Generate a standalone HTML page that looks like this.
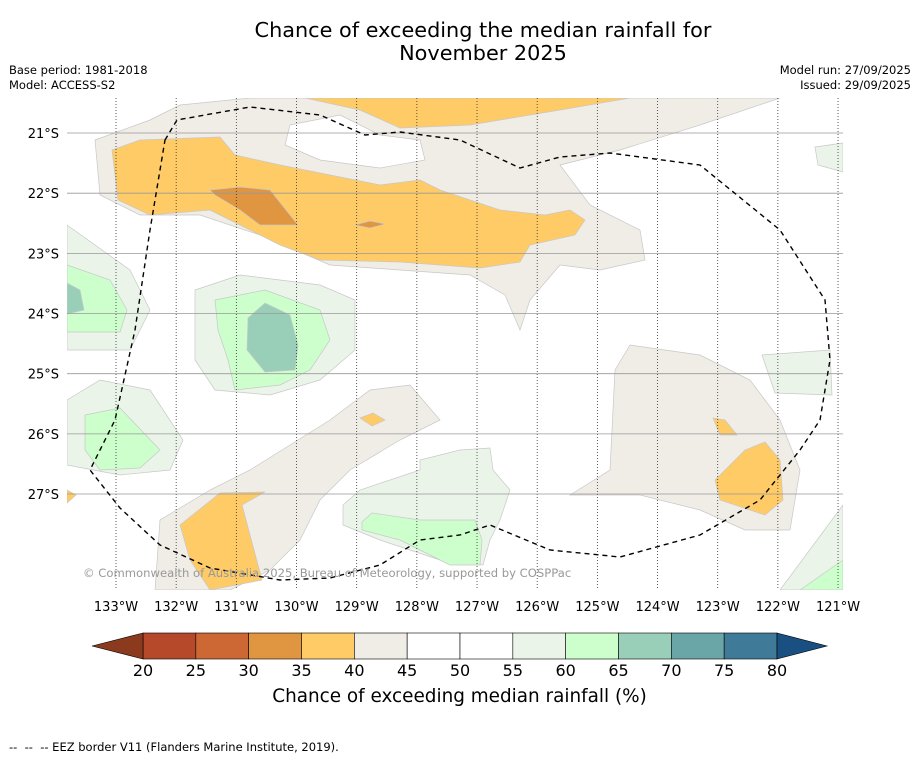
<!DOCTYPE html>
<html><head><meta charset="utf-8"><style>
body{margin:0;background:#fff;font-family:"DejaVu Sans","Liberation Sans",sans-serif;}
#wrap{position:relative;width:919px;height:758px;overflow:hidden;background:#fff}
.t{position:absolute;white-space:nowrap}
svg text{font-family:"DejaVu Sans","Liberation Sans",sans-serif;}
</style></head><body>
<div id="wrap">
<div class="t" style="left:0;width:966px;top:19px;text-align:center;font-size:20.8px;line-height:23px;color:#000">Chance of exceeding the median rainfall for<br>November 2025</div>
<div class="t" style="left:9px;top:63px;font-size:11.5px;line-height:15px">Base period: 1981-2018<br>Model: ACCESS-S2</div>
<div class="t" style="right:8px;top:63px;font-size:11.5px;line-height:15px;text-align:right">Model run: 27/09/2025<br>Issued: 29/09/2025</div>
<svg id="svg" width="919" height="758" style="position:absolute;left:0;top:0">
<defs><clipPath id="mc"><rect x="67" y="98" width="776" height="492"/></clipPath></defs>
<g clip-path="url(#mc)">
<rect x="67" y="98" width="776" height="492" fill="#fff"/>
<g stroke="#c8c8c8" stroke-width="0.7">
<path fill="#f0ece6" d="M95,140 L150,120 L180,105 L250,98 L780,98 L700,125 L620,150 L560,165 L590,205 L640,230 L645,260 L600,270 L560,265 L530,300 L520,330 L505,295 L470,275 L400,270 L330,265 L260,235 L200,215 L140,215 L100,195 Z"/>
<path fill="#fff" d="M290,125 L340,115 L380,135 L420,140 L425,160 L380,168 L320,160 L285,145 Z"/>
<path fill="#fecb66" d="M112,150 L140,140 L220,137 L235,155 L280,165 L330,175 L380,185 L420,180 L440,190 L500,210 L545,215 L570,210 L585,220 L575,235 L530,245 L520,262 L480,268 L400,262 L320,260 L280,245 L240,225 L210,210 L150,215 L118,200 Z"/>
<path fill="#fecb66" d="M305,98 L630,98 L560,110 L470,125 L400,128 L360,110 Z"/>
<path fill="#e09540" d="M210,190 L240,187 L270,190 L298,225 L260,225 L240,210 L215,195 Z M355,225 L370,221 L385,224 L370,228 Z"/>
<path fill="#eaf4e9" d="M195,290 L240,275 L320,285 L355,300 L355,350 L320,380 L270,395 L215,390 L195,360 Z"/>
<path fill="#ccffcc" d="M215,300 L265,290 L320,310 L330,340 L310,370 L280,385 L235,390 L228,360 L218,330 Z"/>
<path fill="#99cfb8" d="M248,318 L265,303 L290,315 L298,345 L295,370 L265,372 L247,350 Z"/>
<path fill="#eaf4e9" d="M67,225 L130,270 L150,310 L130,350 L67,350 Z"/>
<path fill="#ccffcc" d="M67,265 L110,280 L127,310 L120,332 L67,332 Z"/>
<path fill="#99cfb8" d="M67,283 L80,290 L84,310 L67,314 Z"/>
<path fill="#eaf4e9" d="M67,400 L100,380 L150,390 L183,440 L170,470 L120,475 L67,465 Z"/>
<path fill="#ccffcc" d="M85,415 L120,408 L160,450 L140,468 L100,470 L85,450 Z"/>
<path fill="#f0ece6" d="M155,590 L160,520 L210,490 L250,470 L330,420 L370,390 L410,385 L440,420 L400,440 L350,470 L320,500 L300,540 L270,570 L230,590 Z"/>
<path fill="#fecb66" d="M180,525 L220,493 L265,492 L242,505 L262,580 L210,590 L190,560 Z M360,418 L373,413 L385,420 L372,426 Z"/>
<path fill="#eaf4e9" d="M343,505 L360,490 L420,470 L420,460 L460,450 L490,448 L493,470 L510,490 L500,520 L490,540 L483,565 L440,560 L380,540 L343,525 Z"/>
<path fill="#ccffcc" d="M362,522 L372,513 L420,520 L475,520 L482,540 L480,565 L450,565 L400,540 L362,530 Z"/>
<path fill="#f0ece6" d="M570,495 L610,470 L615,370 L630,345 L700,355 L750,380 L780,420 L800,470 L790,530 L745,530 L700,510 L640,495 Z"/>
<path fill="#fecb66" d="M715,480 L745,450 L765,442 L780,460 L783,500 L765,515 L720,500 Z M713,418 L725,420 L737,435 L720,435 Z"/>
<path fill="#eaf4e9" d="M762,355 L830,350 L832,395 L775,393 Z M815,147 L843,143 L843,172 L818,165 Z M780,590 L843,505 L843,590 Z"/>
<path fill="#ccffcc" d="M800,590 L843,560 L843,590 Z"/>
<path fill="#fecb66" d="M67,490 L76,495 L67,503 Z"/>
</g>
<g id="grid"></g>
<path fill="none" stroke="#000" stroke-width="1.4" stroke-dasharray="5,4" d="M165,140 L177,120 L250,107 L320,115 L365,135 L400,132 L460,140 L520,168 L560,157 L610,153 L700,165 L780,230 L825,300 L830,360 L820,420 L800,450 L760,500 L700,535 L620,557 L550,550 L490,525 L460,535 L420,540 L380,565 L330,578 L280,580 L210,568 L160,545 L120,508 L90,470 L115,420 L135,330 L150,230 Z"/>
<text x="83" y="577" font-size="11.6" fill="#999">© Commonwealth of Australia 2025, Bureau of Meteorology, supported by COSPPac</text>
</g>
<g id="axes"></g>
<g id="cbar"></g>
</svg>
<div class="t" style="left:0;width:919px;top:686px;text-align:center;font-size:18.4px">Chance of exceeding median rainfall (%)</div>
<div class="t" style="left:9px;top:740px;font-size:11.5px">-- &nbsp;-- &nbsp;-- EEZ border V11 (Flanders Marine Institute, 2019).</div>
</div>
<script>
const lons=[133,132,131,130,129,128,127,126,125,124,123,122,121];
const lats=[21,22,23,24,25,26,27];
const cbTicks=[20,25,30,35,40,45,50,55,60,65,70,75,80];
const cbColors=["#b5492a","#cd6734","#e09540","#fecb66","#f0ece6","#ffffff","#ffffff","#eaf4e9","#ccffcc","#99cfb8","#6aa5a8","#3f7b99"];
const NS="http://www.w3.org/2000/svg";
const xLon=l=>116+(133-l)*60.17;
const yLat=l=>133+(l-21)*60.17;
const xCb=v=>143+(v-20)*(777-143)/60;
function mk(t,a,p){const e=document.createElementNS(NS,t);for(const k in a)e.setAttribute(k,a[k]);p.appendChild(e);return e;}
const grid=document.getElementById('grid'),axes=document.getElementById('axes'),cb=document.getElementById('cbar');
lons.forEach(l=>{
 const ln=mk('line',{x1:xLon(l),x2:xLon(l),y1:98,y2:590,stroke:'#333','stroke-width':0.8,'stroke-dasharray':'1,2'},grid);
 
 
 const t=mk('text',{x:xLon(l),y:611,'text-anchor':'middle','font-size':13},axes);
 t.textContent=l+'°W';
 
 
});
lats.forEach(l=>{
 const ln=mk('line',{x1:67,x2:843,y1:yLat(l),y2:yLat(l),stroke:'#999','stroke-width':0.8},grid);
 
 
 const t=mk('text',{x:59,y:yLat(l)+5,'text-anchor':'end','font-size':13},axes);
 t.textContent=l+'°S';
 
 
});
cbColors.forEach((c,i)=>{
 const r=mk('rect',{x:xCb(cbTicks[i]),y:633,width:xCb(cbTicks[i+1])-xCb(cbTicks[i]),height:26,fill:c,stroke:'#000','stroke-width':0.6},cb);
 
 
});
const lt=mk('path',{d:`M${xCb(20)},633 L92,646 L${xCb(20)},659 Z`,fill:'#8b3a1e',stroke:'#000','stroke-width':0.6},cb);


const rt=mk('path',{d:`M${xCb(80)},633 L827,646 L${xCb(80)},659 Z`,fill:'#1a4f82',stroke:'#000','stroke-width':0.6},cb);


cbTicks.forEach(v=>{
 const t=mk('text',{x:xCb(v),y:676,'text-anchor':'middle','font-size':16},cb);
 t.textContent=v;
 
 
});
</script>
</body></html>
